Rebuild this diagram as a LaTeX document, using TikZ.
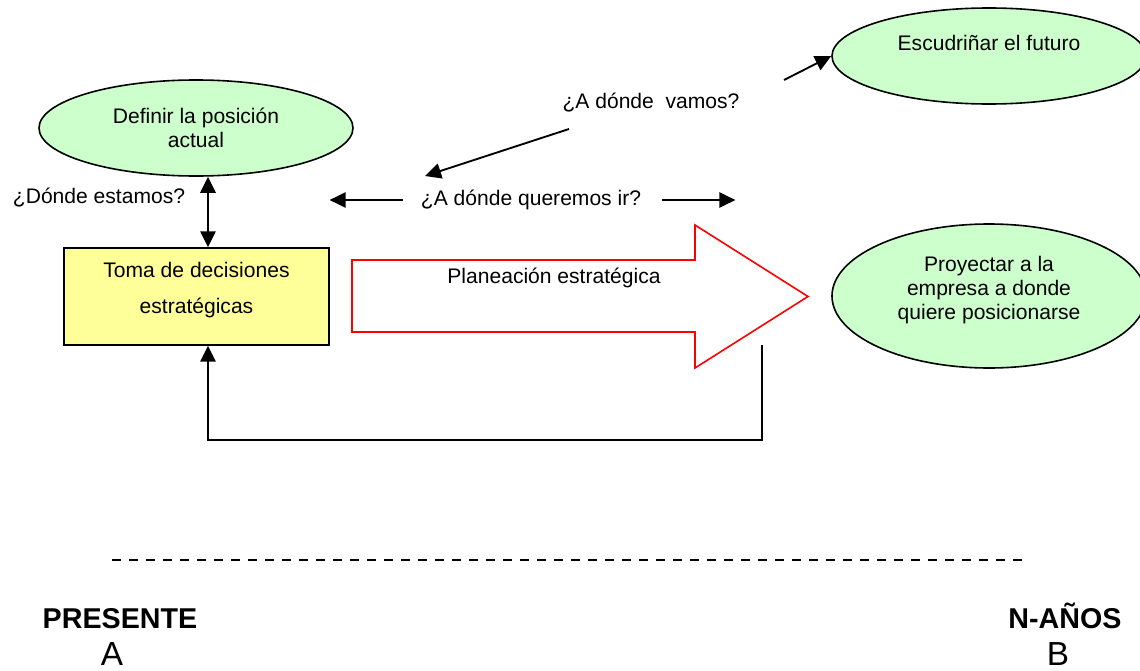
\documentclass[tikz,border=0pt]{standalone}
\usepackage{fontspec}
\setmainfont{Liberation Sans}
\usetikzlibrary{shapes.geometric,arrows.meta,calc}
\definecolor{mint}{HTML}{CCFFCC}
\definecolor{paleyellow}{HTML}{FFFF99}
\begin{document}
\begin{tikzpicture}[x=0.75pt,y=-0.75pt,
  txt/.style={font=\fontsize{15.8}{18}\selectfont, inner sep=0pt, align=center},
  bigbold/.style={font=\fontsize{21.5}{24}\selectfont\bfseries, inner sep=0pt, anchor=base},
  point/.style={font=\fontsize{25}{28}\selectfont, inner sep=0pt, anchor=base},
  goal/.style={ellipse, draw, line width=1.2pt, fill=mint, inner sep=0pt,
    minimum width=235.5pt},
  decision/.style={rectangle, draw, line width=1.1pt, fill=paleyellow, inner sep=0pt,
    minimum width=198.75pt, minimum height=72.75pt},
  arr/.style={line width=1.4pt, -{Triangle[length=12pt,width=11.5pt]}},
  dblarr/.style={line width=1.4pt,
    {Triangle[length=12pt,width=11.5pt]}-{Triangle[length=12pt,width=11.5pt]}}]
\useasboundingbox (0,0) rectangle (1140,671);
\clip (0,0) rectangle (1140,671);

% goals
\node[goal, minimum height=72pt, txt] (pos) at (196,128) {Definir la posición\\actual};
\node[goal, minimum height=72pt] (fut) at (989,56) {};
\node[txt] (futtxt) at (989,43) {Escudriñar el futuro};
\node[goal, minimum height=108pt] (proj) at (989,296) {};
\node[txt] (projtxt) at (989,290) {Proyectar a la\\empresa a donde\\quiere posicionarse};

% decision box
\node[decision] (box) at (196.5,296.5) {};
\node[txt] (boxtxt) at (196.5,290) {Toma de decisiones\\[9pt]estratégicas};

% strategic planning arrow
\draw[red, line width=1.2pt, fill=white]
  (352,260) -- (695,260) -- (695,225) -- (808,296.5) -- (695,368) -- (695,332) -- (352,332) -- cycle;
\node[txt] (plan) at (554,278) {Planeación estratégica};

% questions
\node[txt] (estamos) at (99,198) {¿Dónde estamos?};
\node[txt] (vamos) at (651,103) {¿A dónde~ vamos?};
\node[txt] (queremos) at (531,200) {¿A dónde queremos ir?};

% connectors
\draw[dblarr] ($(box.north)+(11.5,0)$) -- ($(pos.south)+(12,0)$);
\coordinate (fb) at (762,345);
\draw[arr] (fb) -- ++(0,95) -| ($(box.south)+(11.5,0)$);
\coordinate (v1) at (569,129);
\coordinate (v2) at (425,176);
\draw[arr] (v1) -- (v2);
\coordinate (f1) at (784,80);
\draw[arr] (f1) -- (fut.west);
\draw[arr] ($(queremos.west)+(-18,0)$) -- ++(-73,0);
\draw[arr] ($(queremos.east)+(21,0)$) -- ++(73,0);

% time line
\draw[line width=0.8pt, dash pattern=on 6.75pt off 6pt] (112,560) -- (1025,560);
\node[bigbold] (pres) at (120,628) {PRESENTE};
\node[point] (ptA) at (112,665) {A};
\node[bigbold] (nyears) at (1065,628) {N-AÑOS};
\node[point] (ptB) at (1058,665) {B};
\end{tikzpicture}
\end{document}
